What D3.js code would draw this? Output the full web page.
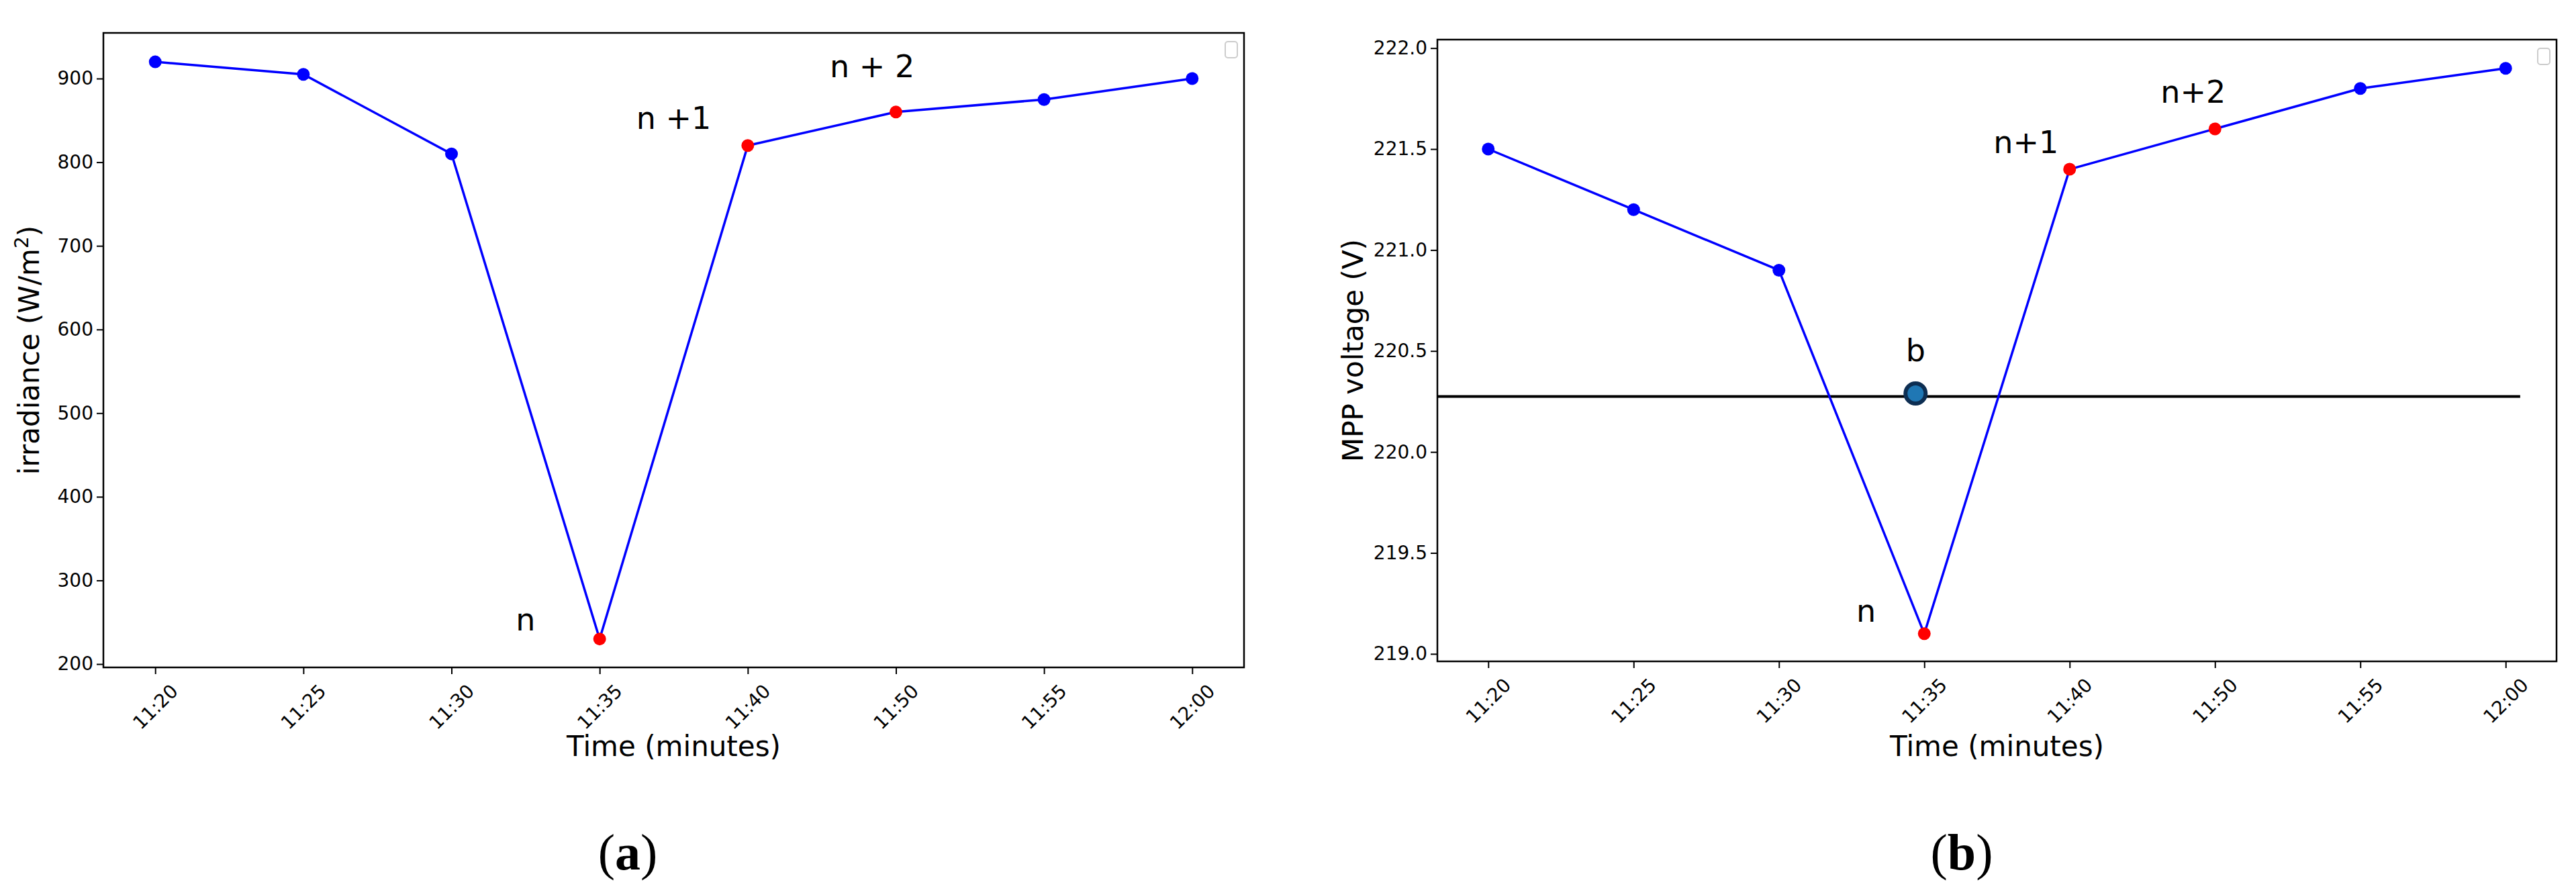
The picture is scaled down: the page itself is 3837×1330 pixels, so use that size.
<!DOCTYPE html>
<html><head><meta charset="utf-8">
<script src="https://cdn.jsdelivr.net/npm/d3@7"></script>
<style>body{margin:0;background:#fff}text{font-family:"DejaVu Sans",sans-serif}text.cap{font-family:"Liberation Serif",serif}</style>
</head><body>
<svg id="c" width="3837" height="1330"></svg>
<script>
const times = ["11:20","11:25","11:30","11:35","11:40","11:50","11:55","12:00"];
const irradiance = [920,905,810,230,820,860,875,900];
const voltage = [221.5,221.2,220.9,219.1,221.4,221.6,221.8,221.9];
const highlighted = ["11:35","11:40","11:50"];
const ticksA = [200,300,400,500,600,700,800,900];
const ticksB = [219.0,219.5,220.0,220.5,221.0,221.5,222.0];
const labelsA = [{t:"n",x:2.5,v:250},{t:"n +1",x:3.5,v:850},{t:"n + 2",x:4.84,v:912}];
const labelsB = [{t:"n",x:2.6,v:219.2},{t:"n+1",x:3.7,v:221.52},{t:"n+2",x:4.85,v:221.77},{t:"b",x:2.94,v:220.49}];
const refLine = 220.275, bPoint = {x:2.94, v:220.29};

const svg = d3.select("#c");
function panel(o){
  const g = svg.append("g");
  const x = d3.scaleLinear().domain([-0.35,7.35]).range([o.l,o.r]);
  const y = d3.scaleLinear().domain(o.dom).range([o.b,o.t]);
  g.append("rect").attr("x",o.l).attr("y",o.t).attr("width",o.r-o.l).attr("height",o.b-o.t)
    .attr("fill","none").attr("stroke","#000").attr("stroke-width",2.5);
  const xa = g.append("g").attr("transform",`translate(0,${o.b})`)
    .call(d3.axisBottom(x).tickValues(d3.range(8)).tickFormat(i=>times[i]).tickSize(10).tickSizeOuter(0));
  xa.select(".domain").remove();
  xa.selectAll("line").attr("stroke-width",2);
  xa.selectAll("text").attr("font-size",28).attr("text-anchor","end")
    .attr("transform","translate(12,14) rotate(-45)").attr("dy","0.7em").attr("dx","0");
  const ya = g.append("g").attr("transform",`translate(${o.l},0)`)
    .call(d3.axisLeft(y).tickValues(o.ticks).tickFormat(o.fmt).tickSize(10).tickSizeOuter(0));
  ya.select(".domain").remove();
  ya.selectAll("line").attr("stroke-width",2);
  ya.selectAll("text").attr("font-size",28).attr("dx","-2");
  if(o.ref!==undefined){
    g.append("line").attr("x1",o.l).attr("x2",x(7.1)).attr("y1",y(o.ref)).attr("y2",y(o.ref))
      .attr("stroke","#000").attr("stroke-width",4);
  }
  g.append("path").datum(o.data).attr("fill","none").attr("stroke","#0000ff").attr("stroke-width",3.5)
    .attr("d",d3.line().x((d,i)=>x(i)).y(d=>y(d)));
  g.selectAll(".pt").data(o.data).join("circle").attr("cx",(d,i)=>x(i)).attr("cy",d=>y(d)).attr("r",9.5)
    .attr("fill",(d,i)=>highlighted.includes(times[i])?"#ff0000":"#0000ff");
  if(o.bp){
    g.append("circle").attr("cx",x(o.bp.x)).attr("cy",y(o.bp.v)).attr("r",15)
      .attr("fill","#1f77b4").attr("stroke","#0d2e52").attr("stroke-width",6);
  }
  o.labels.forEach(L=>g.append("text").attr("x",x(L.x)).attr("y",y(L.v)).attr("text-anchor","middle")
    .attr("dominant-baseline","middle").attr("font-size",46).text(L.t));
  g.append("rect").attr("x",o.r-28).attr("y",o.t+13).attr("width",18).attr("height",24).attr("rx",4)
    .attr("fill","#fff").attr("stroke","#ccc").attr("stroke-width",2);
  g.append("text").attr("x",(o.l+o.r)/2).attr("y",1126).attr("text-anchor","middle").attr("font-size",42).text("Time (minutes)");
  const yt = g.append("text").attr("transform",`translate(${o.yx},${(o.t+o.b)/2}) rotate(-90)`)
    .attr("text-anchor","middle").attr("font-size",42);
  o.ytitle(yt);
  const cp = g.append("text").attr("class","cap").attr("x",o.cap).attr("y",1295).attr("text-anchor","middle")
    .attr("font-size",76);
  cp.append("tspan").text("(");
  cp.append("tspan").attr("font-weight","bold").text(o.capt);
  cp.append("tspan").text(")");
}
panel({l:154,r:1853,t:49,b:994,dom:[196,954.6],ticks:ticksA,fmt:d3.format("d"),data:irradiance,labels:labelsA,
  yx:58,cap:935,capt:"a",ytitle:t=>{t.append("tspan").text("irradiance (W/m");t.append("tspan").attr("baseline-shift","super").attr("font-size",28).text("2");t.append("tspan").text(")");}});
panel({l:2141,r:3808,t:59,b:985,dom:[218.963,222.042],ticks:ticksB,fmt:d3.format(".1f"),data:voltage,labels:labelsB,
  ref:refLine,bp:bPoint,yx:2030,cap:2922,capt:"b",ytitle:t=>t.text("MPP voltage (V)")});
</script>
</body></html>
